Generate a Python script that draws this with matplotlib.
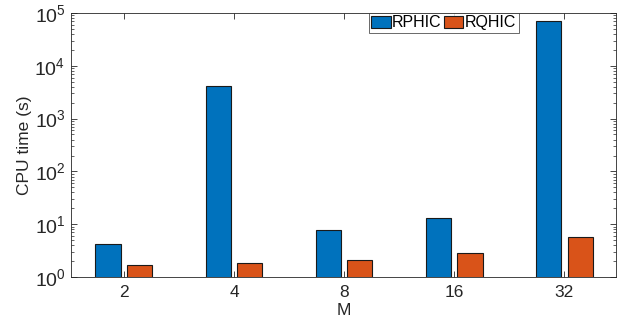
import numpy as np
import matplotlib
matplotlib.use("Agg")
import matplotlib.pyplot as plt
from matplotlib.ticker import LogLocator, FixedLocator

plt.rcParams['font.family'] = ['Liberation Sans', 'DejaVu Sans']
plt.rcParams['mathtext.default'] = 'regular'

# data
M = ['2', '4', '8', '16', '32']
rphic = [4.3, 4140, 7.9, 13.1, 70000]
rqhic = [1.66, 1.82, 2.1, 2.9, 5.65]

blue = '#0072BD'
orange = '#D95319'
axcol = '#262626'

fig = plt.figure(figsize=(6.26, 3.29), dpi=100)
ax = fig.add_axes([71/626, 1-277/329, (616-71)/626, (277-13)/329])

x = np.arange(len(M))
w = 0.228
off = 0.144
ax.bar(x-off, rphic, w, color=blue, edgecolor='#1a1a1a', linewidth=0.8, label='RPHIC', zorder=2)
ax.bar(x+off, rqhic, w, color=orange, edgecolor='#1a1a1a', linewidth=0.8, label='RQHIC', zorder=2)

ax.set_yscale('log')
ax.set_ylim(1, 1e5)
ax.set_xlim(-0.48, 4.47)
ax.set_xticks(x)
ax.set_xticklabels(M)
ax.yaxis.set_major_locator(FixedLocator([1, 10, 100, 1e3, 1e4, 1e5]))
ax.set_yticklabels([r'$10^{%d}$' % i for i in range(6)])
ax.yaxis.set_minor_locator(LogLocator(base=10, subs=np.arange(2, 10), numticks=20))

ax.tick_params(which='both', direction='in', top=True, right=True, colors=axcol,
               labelsize=12.5, labelcolor=axcol)
ax.tick_params(which='major', length=4, width=0.6)
ax.tick_params(which='minor', length=2, width=0.5)
ax.tick_params(axis='x', which='minor', top=False, bottom=False)
ax.tick_params(axis='x', pad=6)
ax.tick_params(axis='y', labelsize=14, pad=4)
for s in ax.spines.values():
    s.set_color(axcol)
    s.set_linewidth(0.6)

ax.set_xlabel('M', fontsize=12.5, color=axcol, labelpad=2)
ax.set_ylabel('CPU time (s)', fontsize=12.5, color=axcol, labelpad=2)

leg = ax.legend(ncol=2, loc='upper left', bbox_to_anchor=((369-71)/545, 1.0),
                fontsize=11.5, frameon=True, fancybox=False, edgecolor=axcol,
                handlelength=1.2, handleheight=0.75, handletextpad=0.1,
                columnspacing=0.15, borderpad=0.15, borderaxespad=0.0)
leg.get_frame().set_linewidth(0.6)

fig.savefig('out.png', dpi=100)
